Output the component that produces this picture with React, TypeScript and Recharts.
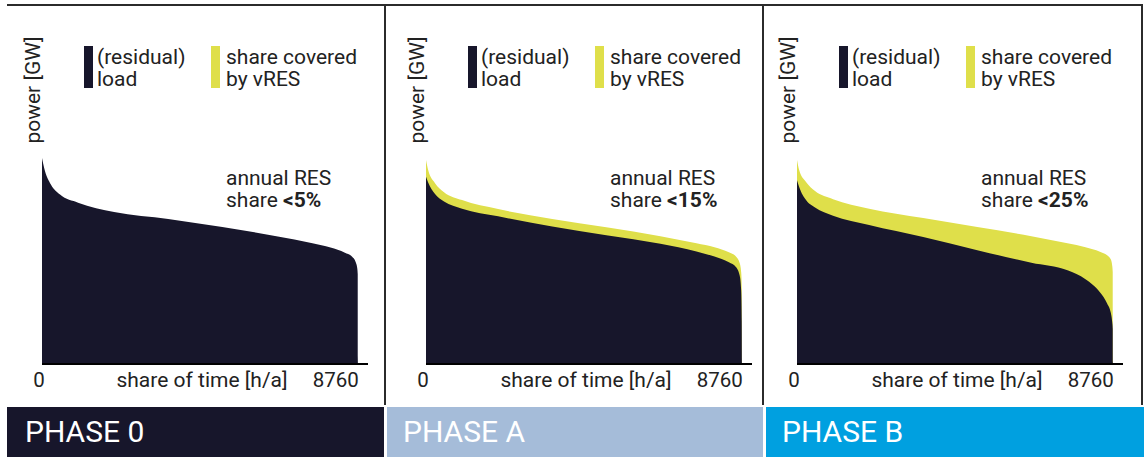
import React from 'react';
import { AreaChart, Area, XAxis, YAxis } from 'recharts';

// hours of the year (sorted duration curve)
const HOURS = [0, 60, 250, 500, 1000, 2000, 3500, 5000, 6500, 7500, 8000, 8400, 8600, 8700, 8740, 8755, 8760];

// Phase 0: (residual) load only
const PHASE0_LOAD = [96.3, 91.6, 83.8, 79.2, 75.4, 71.0, 67.8, 64.0, 59.7, 56.4, 54.4, 52.0, 50.1, 47.6, 45.0, 42.0, 0];

// Phase A: total load and residual load
const PHASEA_TOTAL = [95.3, 90.6, 84.5, 80.3, 76.6, 72.4, 67.8, 63.9, 59.7, 56.4, 54.6, 52.2, 50.1, 47.1, 42.9, 36.0, 0];
const PHASEA_LOAD = [87.5, 84.8, 79.4, 75.9, 72.6, 69.0, 64.2, 60.2, 56.2, 52.6, 50.2, 47.5, 45.2, 41.2, 34.4, 20.0, 0];

// Phase B: total load and residual load
const PHASEB_TOTAL = [95.3, 90.6, 85.0, 80.8, 77.0, 72.6, 68.2, 64.0, 59.7, 56.4, 54.6, 52.5, 50.8, 48.9, 46.0, 43.0, 0];
const PHASEB_LOAD = [85.9, 82.7, 76.6, 73.1, 69.3, 64.9, 59.3, 53.2, 47.3, 43.8, 39.6, 33.5, 28.3, 24.1, 19.8, 16.5, 0];

const X_TICKS = [0, 8760];
const X_DOMAIN = [0, 9040];
const Y_DOMAIN = [0, 100];

const PANELS = [
  { x0: 42, share: '<5%', phase: 'PHASE 0', load: PHASE0_LOAD, total: null as number[] | null },
  { x0: 426, share: '<15%', phase: 'PHASE A', load: PHASEA_LOAD, total: PHASEA_TOTAL },
  { x0: 797, share: '<25%', phase: 'PHASE B', load: PHASEB_LOAD, total: PHASEB_TOTAL },
];

const DARK = '#17162b';
const YELLOW = '#dfdf4a';
const TEXT = '#222222';
const FONT = "Roboto, 'Liberation Sans', sans-serif";

const CHART_W = 341;
const CHART_H = 264;

const Tick = (props: any) => {
  const { x, y, payload } = props;
  const isZero = payload.value === 0;
  return (
    <text
      x={isZero ? x - 3 : x + 1}
      y={y}
      dy={15}
      textAnchor={isZero ? 'middle' : 'end'}
      fill={TEXT}
      fontSize={20.5}
      fontFamily={FONT}
    >
      {payload.value}
    </text>
  );
};

function Panel({ x0, load, total }: { x0: number; load: number[]; total: number[] | null }) {
  const data = HOURS.map((h, i) => ({ h, load: load[i], total: total ? total[i] : null }));
  return (
    <div style={{ position: 'absolute', left: x0 - 10, top: 140, width: CHART_W, height: CHART_H }}>
      <AreaChart width={CHART_W} height={CHART_H} data={data} margin={{ top: 10, right: 5, left: 10, bottom: 0 }}>
        <XAxis
          dataKey="h"
          type="number"
          domain={X_DOMAIN}
          ticks={X_TICKS}
          interval={0}
          height={40}
          tickLine={false}
          tickSize={0}
          tickMargin={8}
          axisLine={{ stroke: '#000', strokeWidth: 2 }}
          tick={<Tick />}
          allowDataOverflow
        />
        <YAxis
          type="number"
          domain={Y_DOMAIN}
          width={0}
          tick={false}
          tickLine={false}
          axisLine={{ stroke: '#000', strokeWidth: 2 }}
          allowDataOverflow
        />
        {total && (
          <Area
            type="monotone"
            dataKey="total"
            stroke="none"
            fill={YELLOW}
            fillOpacity={1}
            isAnimationActive={false}
          />
        )}
        <Area
          type="monotone"
          dataKey="load"
          stroke="none"
          fill={DARK}
          fillOpacity={1}
          isAnimationActive={false}
        />
      </AreaChart>
    </div>
  );
}

const BARS = [
  { x: 7, w: 377, color: DARK, textX: 25 },
  { x: 387, w: 376, color: '#a5bcd9', textX: 403 },
  { x: 766, w: 378, color: '#00a0e0', textX: 782 },
];

export default function App() {
  return (
    <div style={{ position: 'absolute', left: 0, top: 0, width: 1144, height: 457, background: '#fff', overflow: 'hidden' }}>
      {PANELS.map((p) => (
        <Panel key={p.phase} x0={p.x0} load={p.load} total={p.total} />
      ))}
      <svg width={1144} height={457} style={{ position: 'absolute', left: 0, top: 0, pointerEvents: 'none' }}>
        {/* frame */}
        <rect x={7} y={4} width={1136} height={2} fill="#2b2b2b" />
        <rect x={384} y={4} width={2} height={401} fill="#2b2b2b" />
        <rect x={762} y={4} width={2} height={401} fill="#2b2b2b" />
        <rect x={1141} y={4} width={2} height={401} fill="#2b2b2b" />
        {PANELS.map((p) => (
          <g key={p.phase} fontFamily={FONT} fill={TEXT}>
            <text
              transform={`translate(${p.x0 - 2},90) rotate(-90)`}
              textAnchor="middle"
              fontSize={21}
            >
              power [GW]
            </text>
            <rect x={p.x0 + 42} y={46} width={9} height={42} fill={DARK} />
            <text x={p.x0 + 55} y={64} fontSize={21}>(residual)</text>
            <text x={p.x0 + 55} y={86} fontSize={21}>load</text>
            <rect x={p.x0 + 169} y={46} width={9} height={42} fill={YELLOW} />
            <text x={p.x0 + 184} y={64} fontSize={21}>share covered</text>
            <text x={p.x0 + 184} y={86} fontSize={21}>by vRES</text>
            <text x={p.x0 + 184} y={185} fontSize={21}>annual RES</text>
            <text x={p.x0 + 184} y={207} fontSize={21}>
              share <tspan fontWeight="bold">{p.share}</tspan>
            </text>
            <text x={p.x0 + 160} y={387} fontSize={21} textAnchor="middle">share of time [h/a]</text>
          </g>
        ))}
        {BARS.map((b, i) => (
          <g key={i}>
            <rect x={b.x} y={407} width={b.w} height={50} fill={b.color} />
            <text x={b.textX} y={442} fill="#fff" fontSize={30} fontFamily={FONT}>
              {PANELS[i].phase}
            </text>
          </g>
        ))}
      </svg>
    </div>
  );
}
